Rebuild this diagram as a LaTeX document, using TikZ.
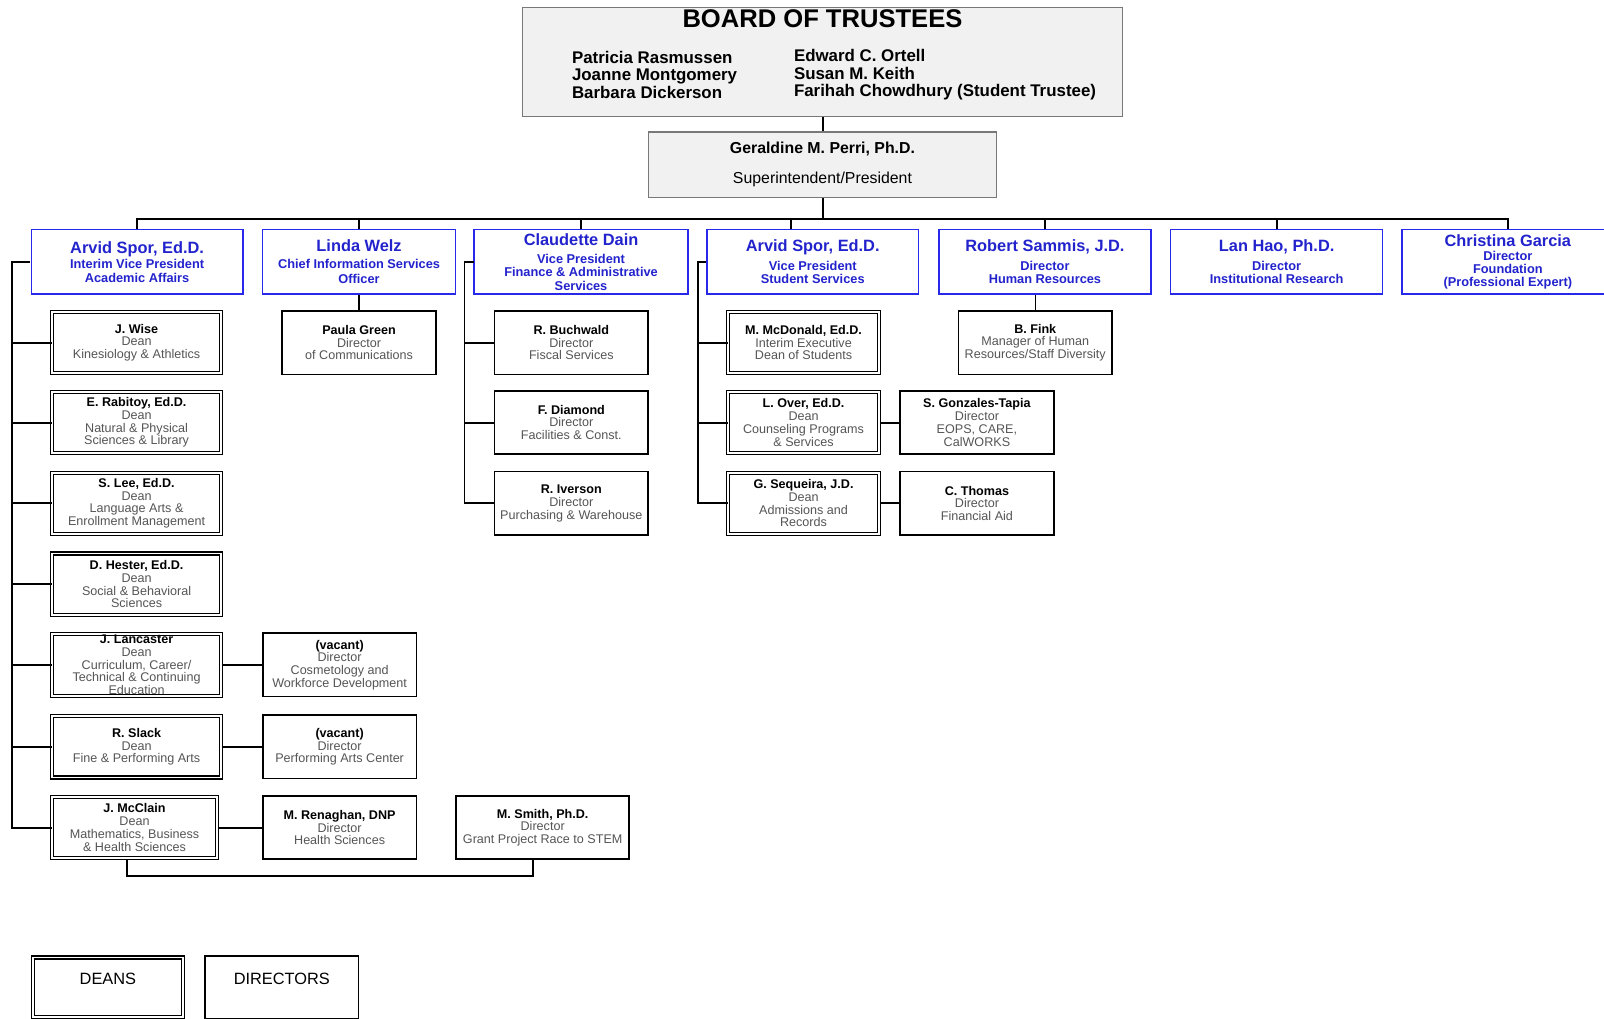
\documentclass[tikz,border=0pt]{standalone}
\usepackage{fontspec}
\setmainfont{Liberation Sans}
\usetikzlibrary{calc}
\definecolor{vpline}{RGB}{40,40,235}
\definecolor{vptext}{RGB}{35,35,205}
\definecolor{subtext}{RGB}{85,85,85}
\definecolor{boardfill}{RGB}{241,241,241}
\definecolor{boardline}{RGB}{120,120,120}
\newcommand\bnm[1]{{\color{black}\bfseries #1}}
\newcommand\vpn[1]{{\fontsize{16}{18}\selectfont #1}}
\begin{document}
\begin{tikzpicture}[x=1pt,y=-1pt,scale=1.023,transform shape,
  conn/.style={draw=black, line width=1.9pt},
  topbox/.style={draw=boardline, line width=1.2pt, fill=boardfill, inner sep=0pt, align=center},
  vpbox/.style={draw=vpline, line width=1.4pt, fill=white, minimum width=207pt, minimum height=63pt,
    inner sep=0pt, align=center, text=vptext, font=\bfseries\fontsize{12.5}{13}\selectfont},
  dirbox/.style={draw=black, line width=1.7pt, fill=white, minimum width=150pt, minimum height=62pt,
    inner sep=0pt, align=center, text=subtext, font=\fontsize{12.3}{12.5}\selectfont},
  deanbox/.style={dirbox, line width=1.2pt, double=white, double distance=1.8pt},
  legtext/.style={inner sep=0pt, font=\fontsize{16}{18}\selectfont}
]
\useasboundingbox (0,0) rectangle (1568,996);

% Board
\node[topbox, minimum width=586pt, minimum height=107pt] (board) at (804,60.5) {};
\node[inner sep=0pt, font=\bfseries\fontsize{25}{28}\selectfont] (btitle) at (804,18) {BOARD OF TRUSTEES};
\node[inner sep=0pt, anchor=west, align=left, font=\bfseries\fontsize{16.5}{17}\selectfont] (bleft) at (559,73)
  {Patricia Rasmussen\\Joanne Montgomery\\Barbara Dickerson};
\node[inner sep=0pt, anchor=west, align=left, font=\bfseries\fontsize{16.5}{17}\selectfont] (bright) at (776,73)
  {Edward C. Ortell\\Susan M. Keith\\Farihah Chowdhury (Student Trustee)};

% President
\node[topbox, minimum width=340pt, minimum height=64pt, font=\fontsize{15.5}{29}\selectfont] (pres) at (804,161)
  {{\bfseries Geraldine M. Perri, Ph.D.}\\Superintendent/President};

% VPs
\node[vpbox] (vp1) at (134,256) {\vpn{Arvid Spor, Ed.D.}\\[2pt]Interim Vice President\\Academic Affairs};
\node[vpbox, minimum width=189pt] (vp2) at (351,256) {\vpn{Linda Welz}\\[3pt]Chief Information Services\\[2pt]Officer};
\node[vpbox, minimum width=209pt] (vp3) at (568,256) {\vpn{Claudette Dain}\\[5pt]Vice President\\Finance \& Administrative\\Services};
\node[vpbox] (vp4) at (794.5,256) {\vpn{Arvid Spor, Ed.D.}\\[5pt]Vice President\\Student Services};
\node[vpbox] (vp5) at (1021.5,256) {\vpn{Robert Sammis, J.D.}\\[5pt]Director\\Human Resources};
\node[vpbox] (vp6) at (1248,256) {\vpn{Lan Hao, Ph.D.}\\[5pt]Director\\Institutional Research};
\node[vpbox] (vp7) at (1474,256) {\vpn{Christina Garcia}\\[1pt]Director\\Foundation\\(Professional Expert)};

% Academic Affairs deans
\node[deanbox, minimum width=165pt, minimum height=60pt] (dwise) at (133.5,335) {\bnm{J. Wise}\\Dean\\Kinesiology \& Athletics};
\node[deanbox, minimum width=165pt, minimum height=60pt] (drab) at (133.5,413) {\bnm{E. Rabitoy, Ed.D.}\\Dean\\Natural \& Physical\\Sciences \& Library};
\node[deanbox, minimum width=165pt, minimum height=60pt] (dlee) at (133.5,492) {\bnm{S. Lee, Ed.D.}\\Dean\\Language Arts \&\\Enrollment Management};
\node[deanbox, minimum width=165pt, minimum height=60pt] (dhest) at (133.5,571) {\bnm{D. Hester, Ed.D.}\\Dean\\Social \& Behavioral\\Sciences};
\node[deanbox, minimum width=165pt, minimum height=60pt] (dlanc) at (133.5,650) {\bnm{J. Lancaster}\\Dean\\Curriculum, Career/\\Technical \& Continuing\\Education};
\node[deanbox, minimum width=165pt, minimum height=60pt] (dslack) at (133.5,730) {\bnm{R. Slack}\\Dean\\Fine \& Performing Arts};
\node[deanbox, minimum width=161pt, minimum height=60pt] (dmcc) at (131.5,809) {\bnm{J. McClain}\\Dean\\Mathematics, Business\\\& Health Sciences};

% Directors under academic affairs
\node[dirbox] (vac1) at (332,650) {\bnm{(vacant)}\\Director\\Cosmetology and\\Workforce Development};
\node[dirbox] (vac2) at (332,730) {\bnm{(vacant)}\\Director\\Performing Arts Center};
\node[dirbox] (renag) at (332,809) {\bnm{M. Renaghan, DNP}\\Director\\Health Sciences};
\node[dirbox, minimum width=169pt] (smith) at (530.5,809) {\bnm{M. Smith, Ph.D.}\\Director\\Grant Project Race to STEM};

% Information services
\node[dirbox] (pgreen) at (351,335) {\bnm{Paula Green}\\Director\\of Communications};

% Finance
\node[dirbox] (buch) at (558.5,335) {\bnm{R. Buchwald}\\Director\\Fiscal Services};
\node[dirbox] (diam) at (558.5,413) {\bnm{F. Diamond}\\Director\\Facilities \& Const.};
\node[dirbox] (ivers) at (558.5,492) {\bnm{R. Iverson}\\Director\\Purchasing \& Warehouse};

% Student services
\node[deanbox, minimum width=147pt, minimum height=60pt] (mcd) at (785.5,335) {\bnm{M. McDonald, Ed.D.}\\Interim Executive\\Dean of Students};
\node[deanbox, minimum width=147pt, minimum height=60pt] (over) at (785.5,413) {\bnm{L. Over, Ed.D.}\\Dean\\Counseling Programs\\\& Services};
\node[deanbox, minimum width=147pt, minimum height=60pt] (seq) at (785.5,492) {\bnm{G. Sequeira, J.D.}\\Dean\\Admissions and\\Records};
\node[dirbox] (gonz) at (955,413) {\bnm{S. Gonzales-Tapia}\\Director\\EOPS, CARE,\\CalWORKS};
\node[dirbox] (thomas) at (955,492) {\bnm{C. Thomas}\\Director\\Financial Aid};

% HR
\node[dirbox] (fink) at (1012,335) {\bnm{B. Fink}\\Manager of Human\\Resources/Staff Diversity};

% Legend
\node[deanbox, minimum width=147pt, minimum height=58pt] (legdeans) at (105.5,965) {};
\node[legtext] (tdeans) at (105.5,957) {DEANS};
\node[dirbox, minimum width=150pt, minimum height=61pt] (legdirs) at (275.5,965) {};
\node[legtext] (tdirs) at (275.5,957) {DIRECTORS};

% Connectors
\coordinate (bus) at (804,214);
\draw[conn] (board.south) -- (pres.north);
\draw[conn] (pres.south) -- (bus);
\draw[conn] (vp1.north) -- (vp1.north |- bus) -- (vp7.north |- bus) -- (vp7.north);
\foreach \v in {vp2,vp3,vp5,vp6} \draw[conn] (\v.north) -- (\v.north |- bus);
\draw[conn] ([xshift=83pt]vp4.north west) -- ([xshift=83pt]vp4.north west |- bus);

% Academic affairs spine
\coordinate (sA) at (12,256);
\draw[conn] (vp1.west) -- (sA) |- (dmcc.west);
\foreach \d in {dwise,drab,dlee,dhest,dlanc,dslack} \draw[conn] (sA |- \d.west) -- (\d.west);
\draw[conn] (dlanc.east) -- (vac1.west);
\draw[conn] (dslack.east) -- (vac2.west);
\draw[conn] (dmcc.east) -- (renag.west);
\coordinate (bl) at (124,856);
\draw[conn] (dmcc.south -| bl) -- (bl) -| ([xshift=-9.5pt]smith.south);

% Information services
\draw[conn] (vp2.south) -- (pgreen.north);

% Finance spine
\coordinate (sF) at (454,256);
\draw[conn] (vp3.west) -- (sF) |- (ivers.west);
\draw[conn] (sF |- buch.west) -- (buch.west);
\draw[conn] (sF |- diam.west) -- (diam.west);

% Student services spine
\coordinate (sS) at (682,256);
\draw[conn] (vp4.west) -- (sS) |- (seq.west);
\draw[conn] (sS |- mcd.west) -- (mcd.west);
\draw[conn] (sS |- over.west) -- (over.west);
\draw[conn] (over.east) -- (gonz.west);
\draw[conn] (seq.east) -- (thomas.west);

% HR
\draw[conn] (fink.north) -- (fink.north |- vp5.south);
\end{tikzpicture}
\end{document}
